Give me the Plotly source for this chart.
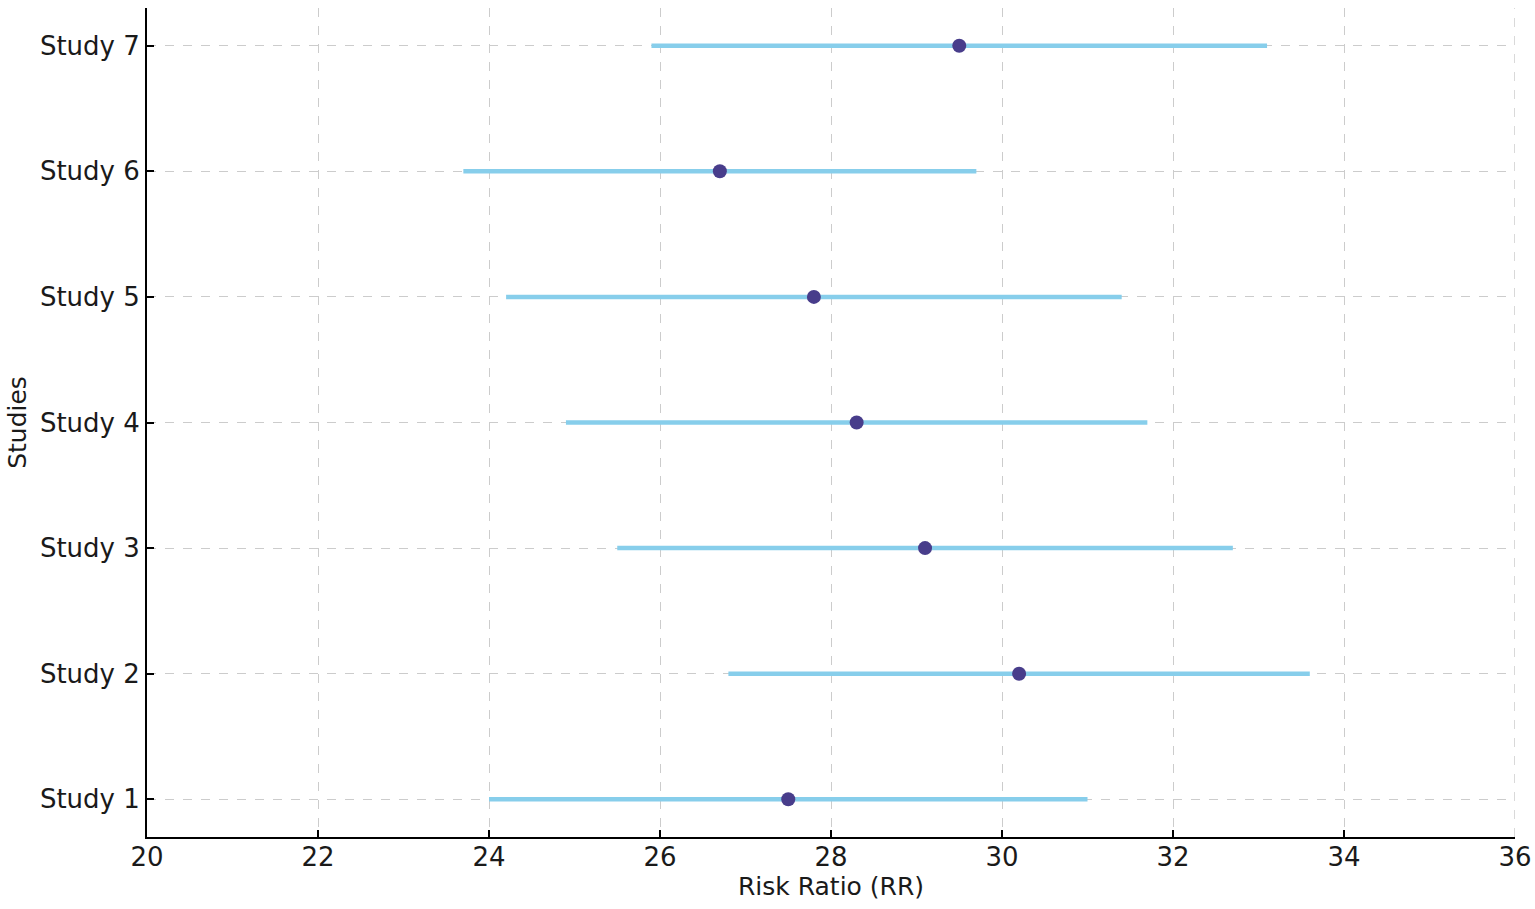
import plotly.graph_objects as go

# Forest plot data
studies = ['Study 1', 'Study 2', 'Study 3', 'Study 4', 'Study 5', 'Study 6', 'Study 7']
rr = [27.5, 30.2, 29.1, 28.3, 27.8, 26.7, 29.5]
ci_low = [24.0, 26.8, 25.5, 24.9, 24.2, 23.7, 25.9]
ci_high = [31.0, 33.6, 32.7, 31.7, 31.4, 29.7, 33.1]
x_ticks = [20, 22, 24, 26, 28, 30, 32, 34, 36]

font = 'DejaVu Sans'
text_color = '#1a1a1a'
grid_color = '#cccccc'

fig = go.Figure()
fig.add_trace(go.Scatter(
    x=rr, y=studies, mode='markers',
    marker=dict(color='#483D8B', size=14),
    error_x=dict(type='data', symmetric=False,
                 array=[h - r for h, r in zip(ci_high, rr)],
                 arrayminus=[r - l for r, l in zip(rr, ci_low)],
                 color='#87CEEB', thickness=4.5, width=0),
    showlegend=False))

# plotly skips the grid line on the right edge, draw it by hand
fig.add_vline(x=x_ticks[-1], line=dict(color=grid_color, width=1.5, dash='dash'), layer='below')

axis_common = dict(showline=True, linecolor='black', linewidth=2,
                   ticks='inside', ticklen=7, tickwidth=1.5, tickcolor='black',
                   showgrid=True, gridcolor=grid_color, griddash='dash', gridwidth=1,
                   zeroline=False, mirror=False, ticklabeloverflow='allow',
                   automargin=False,
                   tickfont=dict(family=font, size=26, color=text_color))

fig.update_xaxes(range=[20, 36], tickvals=x_ticks, ticklabelstandoff=-4, **axis_common,
                 title=dict(text='Risk Ratio (RR)', standoff=4,
                            font=dict(family=font, size=25, color=text_color)))
fig.update_yaxes(type='category', categoryorder='array', categoryarray=studies,
                 range=[-0.3, 6.3], **axis_common,
                 title=dict(text='Studies', standoff=6,
                            font=dict(family=font, size=25, color=text_color)))

fig.update_layout(width=1535, height=909, plot_bgcolor='white', paper_bgcolor='white',
                  margin=dict(l=147, r=20, t=8, b=72),
                  font=dict(family=font))
# drop the page margin so the full-size figure fits the window
fig.write_html("out.html", config={'displayModeBar': False},
               post_script="document.body.style.margin='0';document.body.style.overflow='hidden';")
